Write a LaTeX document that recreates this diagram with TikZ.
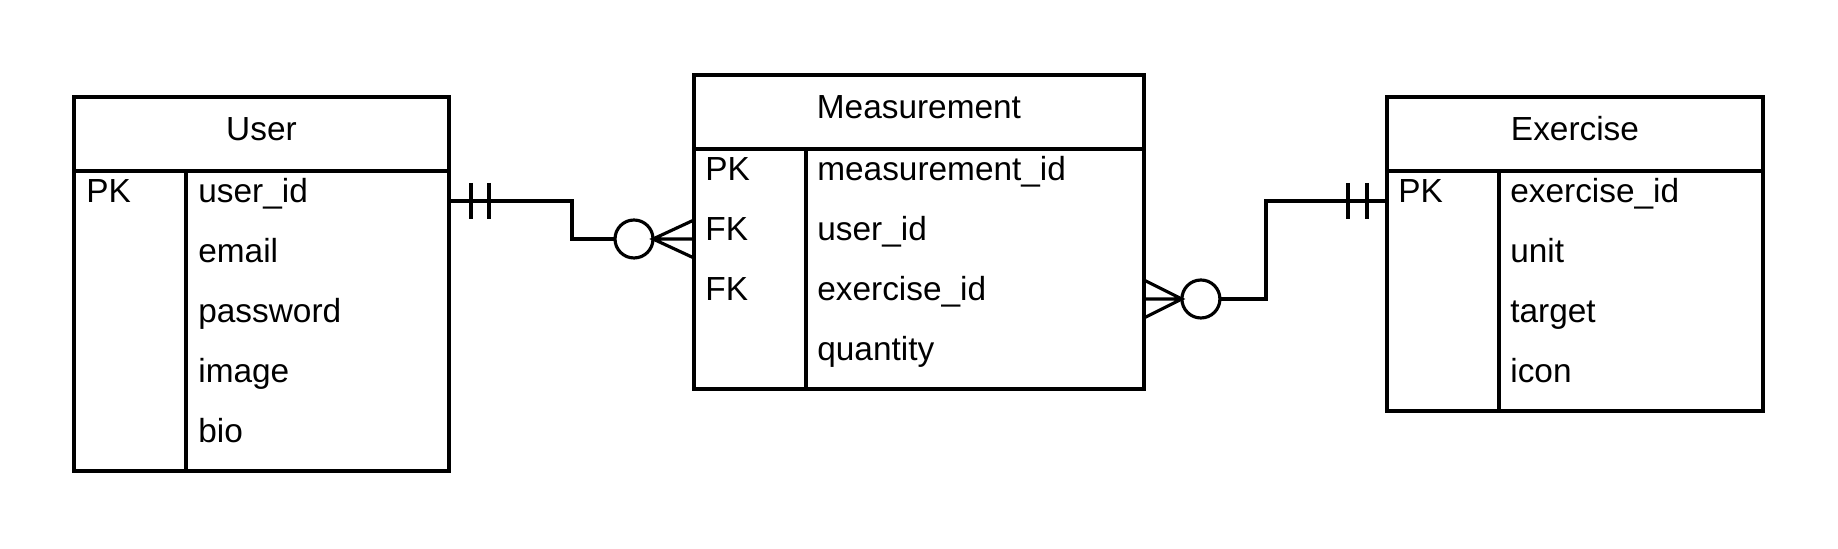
\documentclass[tikz,border=0pt]{standalone}
\usepackage{fontspec}
\setmainfont{Liberation Sans}
\usetikzlibrary{calc,positioning}

\begin{document}
\begin{tikzpicture}[
    x=0.02cm,y=-0.02cm,
    every node/.style={font=\fontsize{19}{22}\selectfont},
    frame/.style={line width=1.8pt},
    headbox/.style={draw,frame,inner sep=0pt,outer sep=0pt,minimum width=#1,minimum height=1.48cm,
      text height=0.5cm,text depth=0.22cm},
    bodybox/.style={draw,frame,inner sep=0pt,outer sep=0pt,minimum width=#1},
    field/.style={anchor=base west,inner sep=0pt},
    link/.style={line width=1.8pt}
  ]
  \useasboundingbox (0,0) rectangle (1838,548);

  % tables
  \node[headbox=7.5cm,anchor=north west] (user) at (74,97) {User};
  \node[bodybox=7.5cm,minimum height=6cm,below=0pt of user] (userbody) {};
  \node[headbox=9cm,anchor=north west] (meas) at (694,75) {Measurement};
  \node[bodybox=9cm,minimum height=4.8cm,below=0pt of meas] (measbody) {};
  \node[headbox=7.52cm,anchor=north west] (ex) at (1387,97) {Exercise};
  \node[bodybox=7.52cm,minimum height=4.8cm,below=0pt of ex] (exbody) {};

  \foreach \t in {userbody,measbody,exbody}
    \draw[frame] ($(\t.north west)+(112,0)$) -- ($(\t.south west)+(112,0)$);

  \foreach \k/\f [count=\i] in {PK/user\_id,/email,/password,/image,/bio} {
    \node[field] at ($(userbody.north west)+(12,{60*\i-28})$) {\k};
    \node[field] at ($(userbody.north west)+(124,{60*\i-28})$) {\f};
  }
  \foreach \k/\f [count=\i] in {PK/measurement\_id,FK/user\_id,FK/exercise\_id,/quantity} {
    \node[field] at ($(measbody.north west)+(11,{60*\i-28})$) {\k};
    \node[field] at ($(measbody.north west)+(123,{60*\i-28})$) {\f};
  }
  \foreach \k/\f [count=\i] in {PK/exercise\_id,/unit,/target,/icon} {
    \node[field] at ($(exbody.north west)+(11,{60*\i-28})$) {\k};
    \node[field] at ($(exbody.north west)+(123,{60*\i-28})$) {\f};
  }

  % relations
  \coordinate (u1) at ($(userbody.north east)+(0,30)$);
  \coordinate (m2) at ($(measbody.north west)+(0,90)$);
  \coordinate (m3) at ($(measbody.north east)+(0,150)$);
  \coordinate (e1) at ($(exbody.north west)+(0,30)$);

  \draw[link] (u1) -- ++(123,0) |- ($(m2)+(-79,0)$);
  \draw[link] ($(u1)+(22,-18)$) -- ++(0,36) ($(u1)+(40,-18)$) -- ++(0,36);
  \draw[link] ($(m2)+(-60,0)$) circle[radius=0.38cm];
  \draw[link] ($(m2)+(0,-19)$) -- ($(m2)+(-41,0)$) -- ($(m2)+(0,19)$)
    ($(m2)+(-41,0)$) -- (m2);

  \draw[link] ($(m3)+(76,0)$) -- ++(46,0) |- (e1);
  \draw[link] ($(e1)+(-39,-18)$) -- ++(0,36) ($(e1)+(-20,-18)$) -- ++(0,36);
  \draw[link] ($(m3)+(57,0)$) circle[radius=0.38cm];
  \draw[link] ($(m3)+(0,-19)$) -- ($(m3)+(38,0)$) -- ($(m3)+(0,19)$)
    ($(m3)+(38,0)$) -- (m3);
\end{tikzpicture}
\end{document}
